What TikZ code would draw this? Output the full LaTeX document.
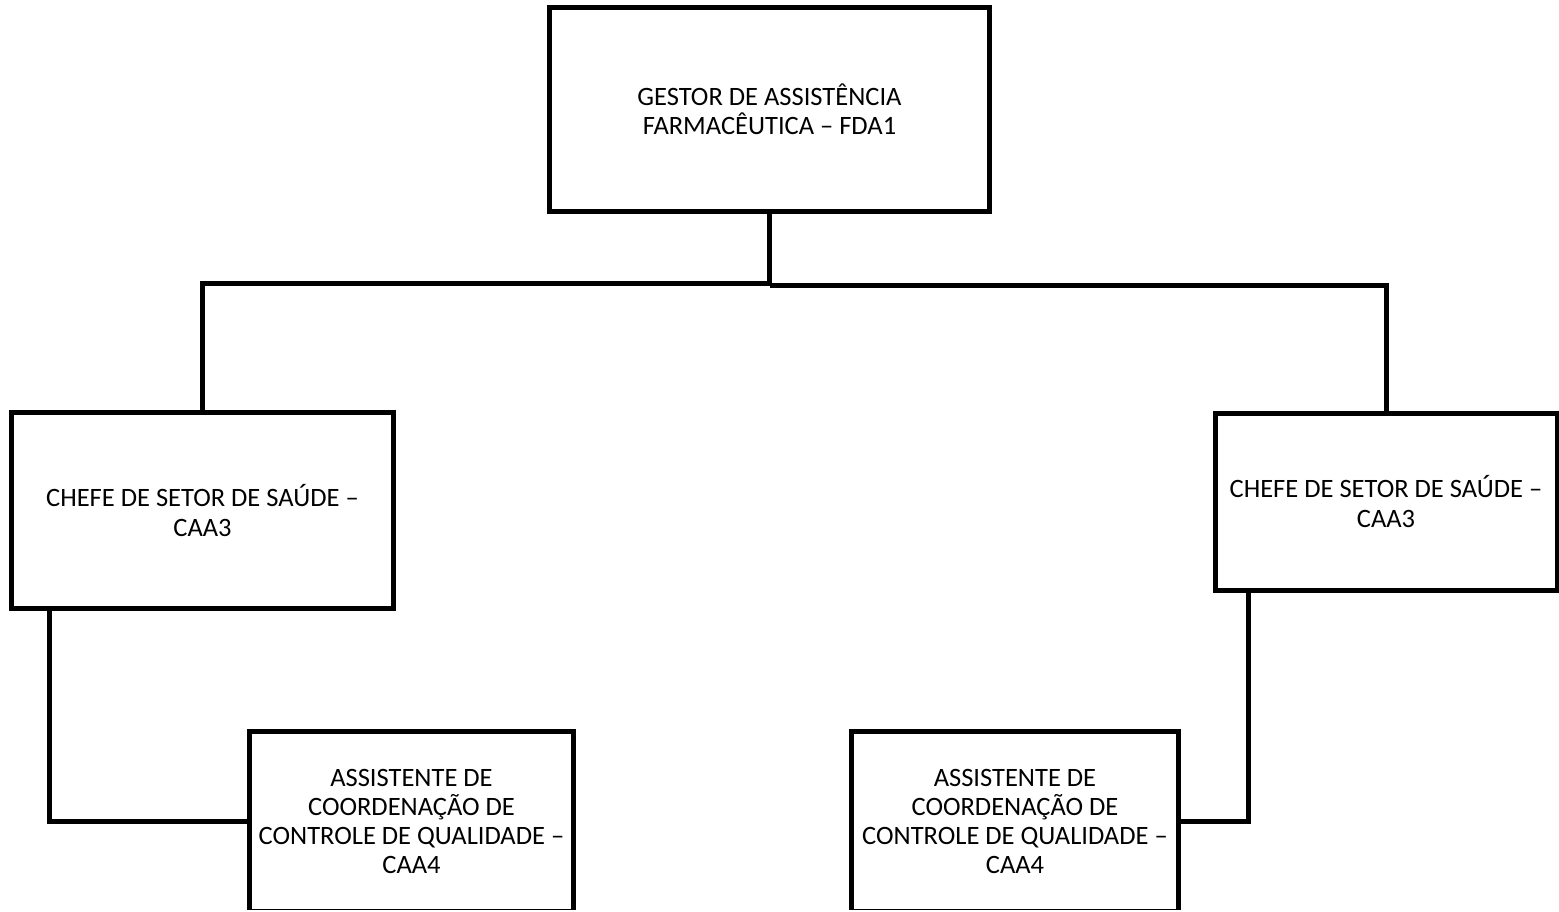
\documentclass[tikz,border=0pt]{standalone}
\usepackage{fontspec}
\setmainfont{Carlito}
\begin{document}
\begin{tikzpicture}[x=1pt,y=-1pt,
  orgbox/.style={draw=black,line width=5pt,fill=white,align=center,inner sep=0pt,
    font=\fontsize{26.5}{29.3}\selectfont},
  link/.style={draw=black,line width=5pt}]
\useasboundingbox (0,0) rectangle (1559,912);
\fill[white] (0,0) rectangle (1559,912);
\clip (0,0) rectangle (1559,909.5);
\node[orgbox,minimum width=440pt,minimum height=204pt] (top) at (769.5,109.5)
  {GESTOR DE ASSISTÊNCIA\\FARMACÊUTICA – FDA1};
\node[orgbox,minimum width=382pt,minimum height=196pt] (left) at (202.5,510.5)
  {CHEFE DE SETOR DE SAÚDE –\\CAA3};
\node[orgbox,minimum width=342pt,minimum height=177pt] (right) at (1386,501.5)
  {CHEFE DE SETOR DE SAÚDE –\\CAA3};
\node[orgbox,minimum width=324pt,minimum height=180pt] (asL) at (411.5,821.5)
  {ASSISTENTE DE\\COORDENAÇÃO DE\\CONTROLE DE QUALIDADE –\\CAA4};
\node[orgbox,minimum width=327pt,minimum height=180pt] (asR) at (1015,821.5)
  {ASSISTENTE DE\\COORDENAÇÃO DE\\CONTROLE DE QUALIDADE –\\CAA4};
\coordinate (jL) at (769.5,283.5);
\coordinate (jR) at (769.5,285.5);
\coordinate (cL) at (49,0);
\coordinate (cR) at (1248.5,0);
\draw[link] (top.south) -- (jL) -| (left.north);
\draw[link] (jR) -| (right.north);
\draw[link] (cL |- left.south) |- (asL.west);
\draw[link] (cR |- right.south) |- (asR.east);
\end{tikzpicture}
\end{document}
